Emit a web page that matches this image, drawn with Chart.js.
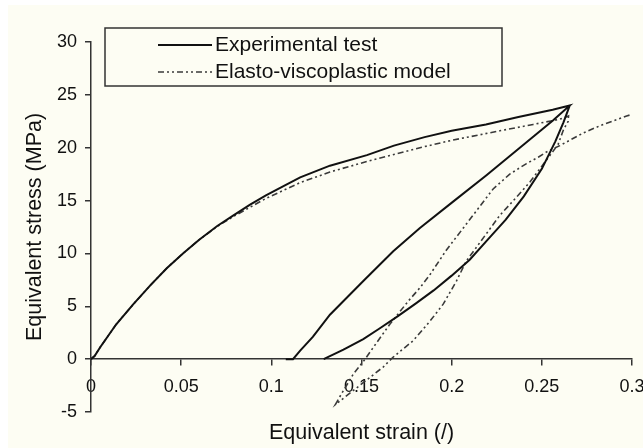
<!DOCTYPE html>
<html>
<head>
<meta charset="utf-8">
<script src="https://cdn.jsdelivr.net/npm/chart.js@4.4.1/dist/chart.umd.min.js"></script>
<style>
  html, body { margin: 0; padding: 0; background: #fff; }
  #wrap { width: 643px; height: 448px; }
</style>
</head>
<body>
<div id="wrap"><canvas id="chartCanvas" width="643" height="448"></canvas></div>
<script>
// Axis ticks
const strainTicks = [0, 0.05, 0.1, 0.15, 0.2, 0.25, 0.3];
const stressTicks = [-5, 0, 5, 10, 15, 20, 25, 30];

// Experimental test: [strain, stress (MPa)]
const expLoading = [
  [0, 0], [0.002, 0.3], [0.005, 1.1], [0.014, 3.3], [0.0235, 5.2], [0.033, 7.0],
  [0.042, 8.6], [0.051, 10.0], [0.06, 11.3], [0.07, 12.6], [0.079, 13.6],
  [0.088, 14.6], [0.097, 15.5], [0.107, 16.4], [0.116, 17.2], [0.1325, 18.3],
  [0.153, 19.3], [0.168, 20.2], [0.185, 21.0], [0.2, 21.6], [0.219, 22.2],
  [0.237, 22.9], [0.256, 23.6], [0.2655, 24.0]
];
const expUnloading = [
  [0.2655, 24.0], [0.2563, 22.6], [0.2378, 20.0], [0.2193, 17.4], [0.2008, 14.9],
  [0.1824, 12.4], [0.1676, 10.2], [0.151, 7.4], [0.1325, 4.2], [0.123, 2.1],
  [0.116, 0.8], [0.112, 0], [0.108, 0]
];
const expReloading = [
  [0.129, 0], [0.14, 0.9], [0.151, 1.9], [0.16, 2.9], [0.17, 4.05], [0.18, 5.25],
  [0.19, 6.5], [0.2, 7.9], [0.21, 9.4], [0.22, 11.3], [0.23, 13.2], [0.24, 15.4],
  [0.25, 18.0], [0.2575, 20.6], [0.262, 22.4], [0.2655, 24.0]
];

// Elasto-viscoplastic model: [strain, stress (MPa)]
const modelLoading = [
  [0, 0], [0.002, 0.3], [0.005, 1.1], [0.014, 3.3], [0.0235, 5.2], [0.033, 7.0],
  [0.042, 8.6], [0.051, 10.0], [0.06, 11.3], [0.07, 12.55], [0.079, 13.5],
  [0.097, 15.2], [0.116, 16.7], [0.1325, 17.7], [0.153, 18.7], [0.1824, 20.0],
  [0.2, 20.7], [0.2267, 21.6], [0.2452, 22.2], [0.26, 22.7], [0.2648, 23.0]
];
const modelUnloading = [
  [0.2646, 22.5], [0.262, 21.7], [0.259, 20.3], [0.2434, 16.75], [0.2369, 15.5],
  [0.2267, 13.6], [0.208, 9.25], [0.2027, 7.4], [0.1953, 5.2], [0.188, 3.6],
  [0.1787, 1.75], [0.1676, 0.2], [0.162, -0.75], [0.1355, -4.3]
];
const modelReloading = [
  [0.1385, -3.4], [0.1455, -1.4], [0.152, 0], [0.1565, 1.1], [0.1657, 3.3],
  [0.176, 5.5], [0.1824, 6.75], [0.188, 8.0], [0.197, 10.3], [0.2118, 13.6],
  [0.223, 16.1], [0.2322, 17.5], [0.2415, 18.5], [0.248, 19.1], [0.2526, 19.6],
  [0.26, 20.2], [0.273, 21.4], [0.282, 22.06], [0.297, 23.0], [0.3, 23.15]
];

const toPoints = (arr) => arr.map(([x, y]) => ({ x: x, y: y }));
const gap = { x: 0.12, y: null }; // breaks the line between unloading and reloading

const FONT = "'Liberation Sans', Arial, sans-serif";
const INK = "#111";

// Paper background
const paperBg = {
  id: "paperBg",
  beforeDraw(chart) {
    const ctx = chart.ctx;
    ctx.save();
    ctx.fillStyle = "#fdfdf3";
    ctx.fillRect(0, 0, chart.width, chart.height);
    ctx.fillStyle = "#ffffff";
    ctx.fillRect(0, 0, chart.width, 5);
    ctx.fillRect(0, 0, 8, chart.height);
    ctx.restore();
  },
};

// Boxed legend in the upper part of the plot
const boxedLegend = {
  id: "boxedLegend",
  afterDraw(chart) {
    const ctx = chart.ctx;
    ctx.save();
    ctx.strokeStyle = "#333";
    ctx.lineWidth = 1.5;
    ctx.strokeRect(105, 28, 397, 58);
    ctx.font = "21px " + FONT;
    ctx.textBaseline = "middle";
    ctx.fillStyle = INK;
    chart.data.datasets.forEach((ds, i) => {
      const y = 45 + i * 27;
      ctx.beginPath();
      ctx.setLineDash(ds.borderDash || []);
      ctx.lineWidth = ds.borderWidth;
      ctx.strokeStyle = ds.borderColor;
      ctx.moveTo(158, y);
      ctx.lineTo(212, y);
      ctx.stroke();
      ctx.setLineDash([]);
      ctx.fillText(ds.label, 215, y);
    });
    ctx.restore();
  },
};

const ctx = document.getElementById("chartCanvas").getContext("2d");
new Chart(ctx, {
  type: "scatter",
  data: {
    datasets: [
      {
        label: "Experimental test",
        data: toPoints(expLoading).concat(toPoints(expUnloading.slice(1)), [gap], toPoints(expReloading)),
        showLine: true,
        borderColor: INK,
        borderWidth: 2,
        pointRadius: 0,
        tension: 0,
        spanGaps: false,
      },
      {
        label: "Elasto-viscoplastic model",
        data: toPoints(modelLoading.concat(modelUnloading, modelReloading)),
        showLine: true,
        borderColor: "#3a3a3a",
        borderWidth: 1.6,
        borderDash: [6, 3, 2, 3, 2, 3],
        pointRadius: 0,
        tension: 0,
      },
    ],
  },
  options: {
    responsive: false,
    animation: false,
    layout: { padding: { left: 0, top: 42, right: 11, bottom: 36 } },
    plugins: {
      legend: { display: false },
      tooltip: { enabled: false },
    },
    scales: {
      x: {
        type: "linear",
        position: { y: 0 },
        min: 0,
        max: 0.3,
        afterBuildTicks: (scale) => {
          scale.ticks = strainTicks.map((v) => ({ value: v }));
        },
        afterFit: (scale) => {
          scale.height = 86.5;
          scale.paddingLeft = 0;
          scale.paddingRight = 0;
        },
        grid: { drawOnChartArea: false, drawTicks: true, tickLength: 6, color: "#333", lineWidth: 1.5 },
        border: { display: true, color: "#333", width: 1.5 },
        ticks: {
          padding: 11,
          color: INK,
          font: { family: FONT, size: 18 },
          callback: (v) => String(Math.round(v * 100) / 100),
        },
        title: {
          display: true,
          text: "Equivalent strain (/)",
          color: INK,
          font: { family: FONT, size: 21.5 },
          padding: 0,
        },
      },
      y: {
        type: "linear",
        position: "left",
        min: -5,
        max: 30,
        afterBuildTicks: (scale) => {
          scale.ticks = stressTicks.map((v) => ({ value: v }));
        },
        afterFit: (scale) => {
          scale.width = 91;
          scale.paddingTop = 0;
          scale.paddingBottom = 0;
        },
        grid: { drawOnChartArea: false, drawTicks: true, tickLength: 6, color: "#333", lineWidth: 1.5 },
        border: { display: true, color: "#333", width: 1.5 },
        ticks: {
          padding: 8,
          color: INK,
          font: { family: FONT, size: 18 },
        },
        title: {
          display: true,
          text: "Equivalent stress (MPa)",
          color: INK,
          font: { family: FONT, size: 21.5 },
          padding: { top: 22, bottom: 0 },
        },
      },
    },
  },
  plugins: [paperBg, boxedLegend],
});
</script>
</body>
</html>
